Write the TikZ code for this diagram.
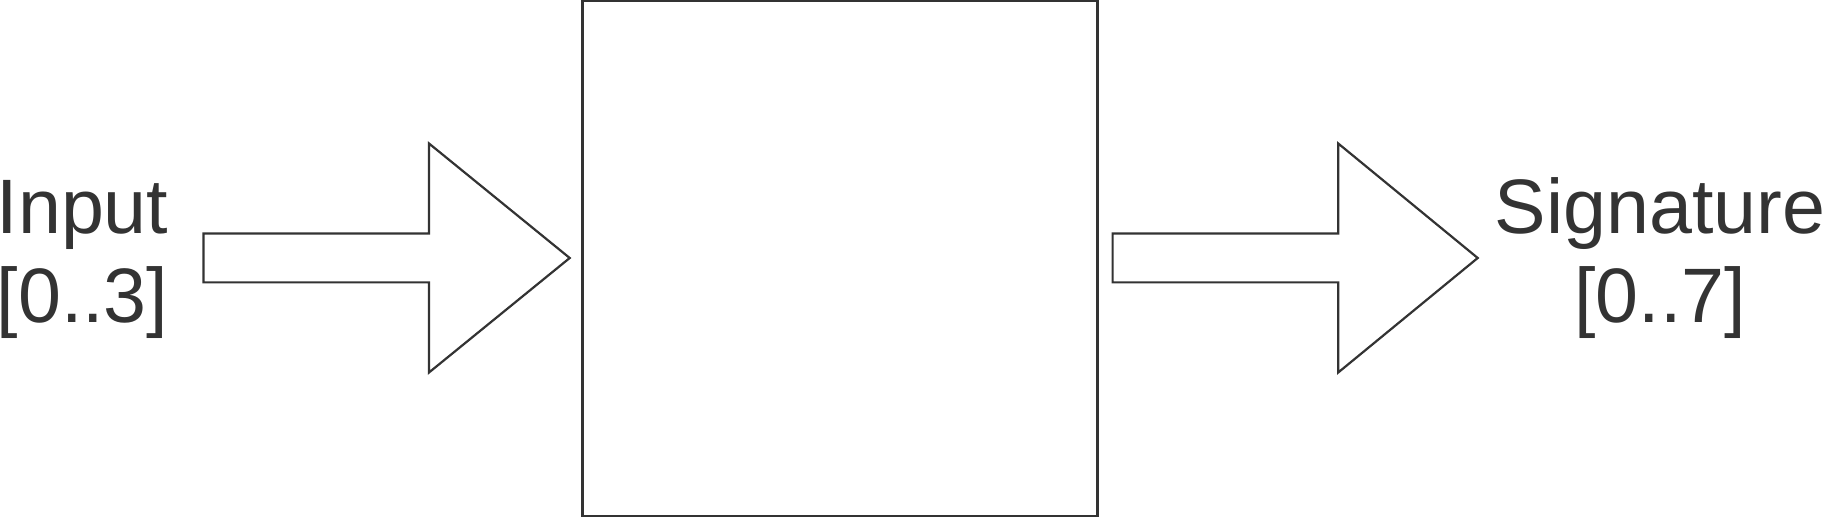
\documentclass[tikz,border=0pt]{standalone}
\usepackage{fontspec}
\setmainfont{Liberation Sans}
\definecolor{linegray}{HTML}{333333}

\begin{document}
\begin{tikzpicture}[x=0.5pt, y=0.5pt,
  blockarrow/.style={draw=linegray, line width=1.1pt, line join=miter},
  portlabel/.style={text=linegray, align=center, inner sep=0pt, anchor=base,
    font=\fontsize{38.6pt}{44.75pt}\selectfont}]
\useasboundingbox (0,0) rectangle (1823,518);
% the empty block
\node[draw=linegray, line width=1.2pt, inner sep=0pt,
  minimum width=257.5pt, minimum height=257.5pt] (block) at (840,259.3) {};
% labels (base is the second line)
\node[portlabel] (input) at (82.5,195) {Input\\{[0..3]}};
\node[portlabel] (signature) at (1660,195) {Signature\\{[0..7]}};
% block arrows
\coordinate (inarrow) at (203.5,260);
\coordinate (outarrow) at (1112.6,260);
\draw[blockarrow] (inarrow) -- ++(0,24.4) -- ++(225.5,0) -- ++(0,90.1)
  -- ++(140.7,-114.5) -- ++(-140.7,-114.5) -- ++(0,90.1) -- ++(-225.5,0) -- cycle;
\draw[blockarrow] (outarrow) -- ++(0,24.4) -- ++(225.6,0) -- ++(0,90.1)
  -- ++(139.5,-114.5) -- ++(-139.5,-114.5) -- ++(0,90.1) -- ++(-225.6,0) -- cycle;
\end{tikzpicture}
\end{document}
